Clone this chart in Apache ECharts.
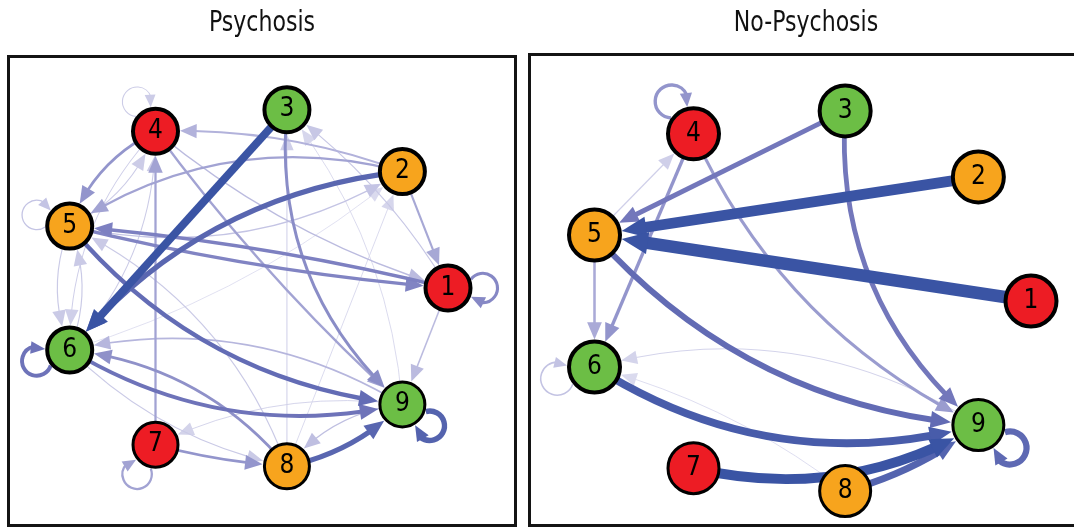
<!DOCTYPE html>
<html>
<head>
<meta charset="utf-8">
<title>Psychosis / No-Psychosis networks</title>
<script src="https://cdn.jsdelivr.net/npm/echarts@6/dist/echarts.min.js"></script>
<style>
  html, body { margin: 0; padding: 0; background: #ffffff; }
  #chart { width: 1074px; height: 527px; }
</style>
</head>
<body>
<div id="chart"></div>
<script>
// ---- Nodes (shared by both networks) ----
const nodeNames = ['1', '2', '3', '4', '5', '6', '7', '8', '9'];
const nodeGroup = ['red', 'orange', 'green', 'red', 'orange', 'green', 'red', 'orange', 'green'];
// circle layout, unit coordinates
const layoutX = [1.000, 0.766, 0.174, -0.500, -0.940, -0.940, -0.500, 0.174, 0.766];
const layoutY = [0.000, 0.643, 0.985, 0.866, 0.342, -0.342, -0.866, -0.985, -0.643];

// ---- Psychosis network: directed edges [from, to, weight] ----
const edgesPsychosis = [
  [3, 6, 0.52], [2, 6, 0.32], [8, 9, 0.32], [5, 9, 0.28], [6, 9, 0.24],
  [1, 5, 0.20], [5, 1, 0.19], [3, 9, 0.17], [8, 6, 0.16], [4, 5, 0.15],
  [7, 8, 0.15], [4, 9, 0.12], [2, 5, 0.12], [7, 4, 0.12], [2, 1, 0.11],
  [2, 4, 0.09], [9, 6, 0.08], [4, 1, 0.07], [1, 9, 0.07], [9, 8, 0.06],
  [5, 2, 0.05], [1, 3, 0.045], [6, 5, 0.04], [5, 6, 0.04], [8, 5, 0.04],
  [6, 8, 0.04], [5, 4, 0.035], [6, 4, 0.035], [4, 6, 0.03], [8, 3, 0.03],
  [9, 7, 0.025], [8, 2, 0.02], [9, 3, 0.02], [6, 2, 0.015]
];
// self-loops [node, weight]
const loopsPsychosis = [[9, 0.34], [6, 0.24], [1, 0.18], [7, 0.12], [5, 0.05], [4, 0.035]];

// ---- No-Psychosis network ----
const edgesNoPsychosis = [
  [1, 5, 0.85], [2, 5, 0.72], [7, 9, 0.66], [6, 9, 0.52], [8, 9, 0.45],
  [5, 9, 0.38], [3, 9, 0.30], [3, 5, 0.30], [4, 6, 0.20], [4, 9, 0.18],
  [5, 6, 0.14], [5, 4, 0.04], [9, 6, 0.03], [8, 6, 0.02]
];
const loopsNoPsychosis = [[9, 0.40], [4, 0.20], [6, 0.07]];

// ---- Drawing settings ----
const FONT = "'Liberation Sans Narrow', 'Arial Narrow', 'DejaVu Sans Condensed', sans-serif";
const nodeColors = { red: '#ED1C24', orange: '#F7A41D', green: '#6CBE45' };
const nodeBorder = [4, 4, 4, 4, 4, 4, 3, 3, 3];
// edge colour ramp: faint lavender -> violet -> deep blue
const EDGE_RAMP = [
  [0.00, [236, 236, 246]],
  [0.35, [178, 178, 219]],
  [0.65, [112, 116, 186]],
  [1.00, [58, 84, 164]]
];

// edge bend (quadratic control offset as a fraction of the chord), keyed "from-to"
const bendPsychosis = {
  '3-6': 0, '2-6': -0.2, '8-9': -0.15, '5-9': -0.2, '6-9': -0.2, '9-6': -0.2,
  '1-5': -0.04, '5-1': -0.04, '3-9': -0.25, '8-6': -0.2, '4-5': -0.2, '5-4': -0.2,
  '4-9': -0.05, '2-5': -0.22, '5-2': -0.2, '7-8': -0.05, '7-4': 0, '2-1': 0,
  '2-4': -0.1, '4-1': -0.1, '9-8': -0.2, '1-9': 0, '1-3': -0.1, '6-5': -0.2,
  '5-6': -0.2, '6-4': -0.2, '4-6': -0.2, '8-3': 0, '9-7': -0.15, '8-2': 0,
  '8-5': -0.2, '6-8': -0.15, '9-3': -0.15, '6-2': -0.1
};
const bendNoPsychosis = {
  '1-5': 0, '2-5': 0, '3-5': 0, '7-9': -0.2, '6-9': -0.22, '8-9': -0.1,
  '5-9': -0.2, '3-9': -0.25, '4-9': -0.18, '4-6': 0, '5-6': 0, '5-4': 0,
  '9-6': -0.22, '8-6': -0.1
};

const panels = [
  {
    title: 'Psychosis', titleX: 262,
    grid: { left: 58, top: 107, width: 390, height: 362 },
    frame: { x: 8.5, y: 56.5, width: 507, height: 469 },
    nodeSize: 45, edges: edgesPsychosis, loops: loopsPsychosis, bend: bendPsychosis,
    colorSat: 0.45
  },
  {
    title: 'No-Psychosis', titleX: 806,
    grid: { left: 581, top: 108, width: 450, height: 386 },
    frame: { x: 529.5, y: 54.5, width: 560, height: 471 },
    nodeSize: 51, edges: edgesNoPsychosis, loops: loopsNoPsychosis, bend: bendNoPsychosis,
    colorSat: 0.6
  }
];

function edgeWidth(w) { return 0.6 + 14 * w; }
function edgeColor(w, sat) {
  const t = Math.pow(Math.min(1, w / sat), 0.65);
  let k = 1;
  while (k < EDGE_RAMP.length - 1 && t > EDGE_RAMP[k][0]) k++;
  const [t0, c0] = EDGE_RAMP[k - 1], [t1, c1] = EDGE_RAMP[k];
  const f = (t - t0) / (t1 - t0);
  const c = c0.map((v, i) => Math.round(v + (c1[i] - v) * f));
  return 'rgb(' + c.join(',') + ')';
}
function arrowSize(lw) {
  const L = 15 + 0.9 * lw;
  return [L, Math.max(0.85 * L, lw + 7)];
}
function bez(P, C, Q, t) {
  const u = 1 - t;
  return [u * u * P[0] + 2 * u * t * C[0] + t * t * Q[0],
          u * u * P[1] + 2 * u * t * C[1] + t * t * Q[1]];
}
// parameter t at which the curve is `dist` away from its end point
function tAtDistance(P, C, Q, dist) {
  let lo = 0, hi = 1;
  for (let i = 0; i < 40; i++) {
    const mid = (lo + hi) / 2;
    const B = bez(P, C, Q, mid);
    if (Math.hypot(B[0] - Q[0], B[1] - Q[1]) > dist) lo = mid; else hi = mid;
  }
  return (lo + hi) / 2;
}
function arrowHead(T, B, W, color) {
  const dx = T[0] - B[0], dy = T[1] - B[1];
  const len = Math.hypot(dx, dy) || 1;
  const nx = -dy / len, ny = dx / len;
  return {
    type: 'polygon',
    shape: { points: [T, [B[0] + nx * W / 2, B[1] + ny * W / 2], [B[0] - nx * W / 2, B[1] - ny * W / 2]] },
    style: { fill: color }
  };
}

function makeRenderer(panel) {
  const R = panel.nodeSize / 2 + 2;
  return function (params, api) {
    const a = api.value(0) - 1, b = api.value(1) - 1, w = api.value(2);
    const lw = edgeWidth(w);
    const color = edgeColor(w, panel.colorSat);
    const [L, W] = arrowSize(lw);
    const P = api.coord([layoutX[a], layoutY[a]]);

    if (a === b) {
      // self-loop, placed outward from the layout centre, drawn clockwise
      const O = api.coord([0, 0]);
      let ux = P[0] - O[0], uy = P[1] - O[1];
      const ul = Math.hypot(ux, uy) || 1; ux /= ul; uy /= ul;
      const r = 0.6 * R, d = R + 0.7 * r;
      const C = [P[0] + ux * d, P[1] + uy * d];
      const phi0 = Math.acos((d * d + r * r - R * R) / (2 * d * r));
      const alpha = Math.atan2(P[1] - C[1], P[0] - C[0]);
      const La = 0.78 * L, Wa = 0.8 * W;
      const delta = 2 * Math.asin(Math.min(0.95, La / (2 * r)));
      const endA = alpha - phi0, baseA = endA - delta;
      const T = [C[0] + r * Math.cos(endA), C[1] + r * Math.sin(endA)];
      const B = [C[0] + r * Math.cos(baseA), C[1] + r * Math.sin(baseA)];
      return {
        type: 'group',
        children: [
          {
            type: 'arc',
            shape: { cx: C[0], cy: C[1], r: r, startAngle: alpha + phi0, endAngle: baseA + 2 * Math.PI + delta * 0.2, clockwise: true },
            style: { stroke: color, lineWidth: lw, fill: 'none' }
          },
          arrowHead(T, B, Wa, color)
        ]
      };
    }

    const Q = api.coord([layoutX[b], layoutY[b]]);
    const k = panel.bend[(a + 1) + '-' + (b + 1)] || 0;
    const dx = Q[0] - P[0], dy = Q[1] - P[1];
    const C = [(P[0] + Q[0]) / 2 + dy * k, (P[1] + Q[1]) / 2 - dx * k];
    const tTip = tAtDistance(P, C, Q, R);
    const tBase = tAtDistance(P, C, Q, R + L);
    const tLine = tAtDistance(P, C, Q, R + L * 0.85);
    return {
      type: 'group',
      children: [
        {
          type: 'bezierCurve',
          shape: { x1: P[0], y1: P[1], x2: Q[0], y2: Q[1], cpx1: C[0], cpy1: C[1], percent: tLine },
          style: { stroke: color, lineWidth: lw, fill: 'none' }
        },
        arrowHead(bez(P, C, Q, tTip), bez(P, C, Q, tBase), W, color)
      ]
    };
  };
}

const option = {
  animation: false,
  backgroundColor: '#ffffff',
  graphic: [].concat(
    // panel frames
    panels.map(p => ({
      type: 'rect', silent: true, z: 0,
      shape: p.frame,
      style: { fill: 'none', stroke: '#141414', lineWidth: 3 }
    })),
    // panel titles (condensed)
    panels.map(p => ({
      type: 'text', silent: true, z: 10,
      x: p.titleX, y: 10, scaleX: 0.875,
      style: {
        text: p.title, fill: '#111111',
        fontSize: 28, fontFamily: FONT,
        align: 'center', verticalAlign: 'top',
        textAlign: 'center', textVerticalAlign: 'top'
      }
    }))
  ),
  grid: panels.map(p => Object.assign({ containLabel: false }, p.grid)),
  xAxis: panels.map((p, i) => ({ type: 'value', gridIndex: i, min: -1, max: 1, show: false })),
  yAxis: panels.map((p, i) => ({ type: 'value', gridIndex: i, min: -1, max: 1, show: false })),
  series: []
};

panels.forEach((p, i) => {
  const items = p.edges.map(e => [e[0], e[1], e[2]])
    .concat(p.loops.map(l => [l[0], l[0], l[1]]))
    .sort((u, v) => u[2] - v[2]);
  option.series.push({
    type: 'custom', name: p.title + ' edges',
    xAxisIndex: i, yAxisIndex: i, z: 2, silent: true,
    renderItem: makeRenderer(p),
    data: items
  });
  option.series.push({
    type: 'scatter', name: p.title + ' nodes',
    xAxisIndex: i, yAxisIndex: i, z: 5, silent: true,
    symbol: 'circle', symbolSize: p.nodeSize,
    itemStyle: { opacity: 1 },
    label: { show: true, position: 'inside', formatter: '{b}', color: '#000000', fontSize: 26, fontFamily: FONT },
    data: nodeNames.map((n, k) => ({
      name: n, value: [layoutX[k], layoutY[k]],
      itemStyle: { color: nodeColors[nodeGroup[k]], borderColor: '#000000', borderWidth: nodeBorder[k], opacity: 1 }
    }))
  });
});

const chart = echarts.init(document.getElementById('chart'), null, { renderer: 'canvas' });
chart.setOption(option);
</script>
</body>
</html>
